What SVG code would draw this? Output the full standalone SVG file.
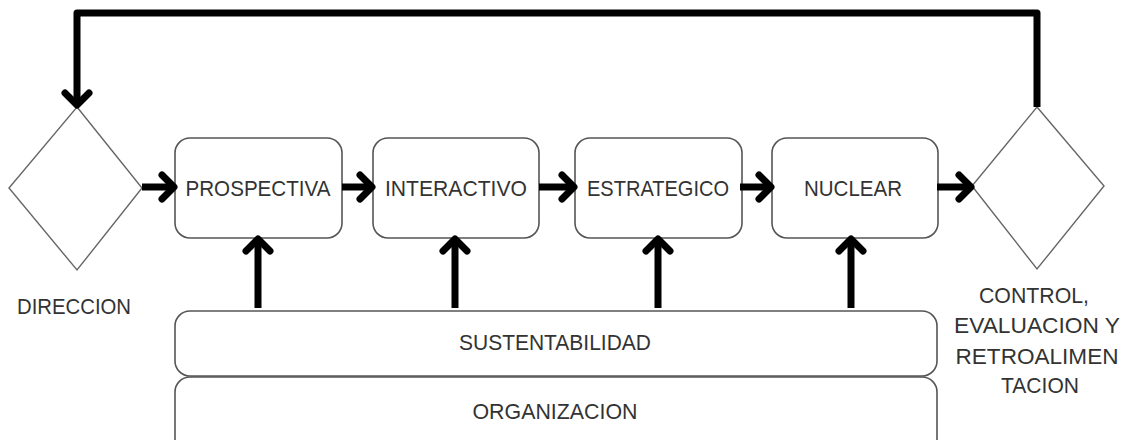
<svg xmlns="http://www.w3.org/2000/svg" width="1123" height="440" viewBox="0 0 1123 440">
<style>
.box{fill:#fff;stroke:#555;stroke-width:1.6}
.dia{fill:#fff;stroke:#666;stroke-width:1.4}
.t{font-family:"Liberation Sans",Arial,sans-serif;font-size:22px;fill:#333;text-anchor:middle;dominant-baseline:central}
.c{fill:none;stroke:#000;stroke-width:7;stroke-linejoin:round}
</style>
<defs>
<marker id="ah" markerUnits="userSpaceOnUse" markerWidth="40" markerHeight="40" viewBox="-20 -20 40 40" refX="0" refY="0" orient="auto">
<path d="M-12,-12 L0,0 L-12,12" fill="none" stroke="#000" stroke-width="7" stroke-linecap="round" stroke-linejoin="round"/>
</marker>
</defs>
<rect width="1123" height="440" fill="#fff"/>
<g id="direccion">
<polygon class="dia" points="77,107 142,188 77,270 9,188"/>
<text class="t" x="74" y="306" textLength="114" lengthAdjust="spacingAndGlyphs">DIRECCION</text>
</g>
<g id="control">
<polygon class="dia" points="1037,107 1104,186 1037,269 972,186"/>
<text class="t" x="1034" y="295" textLength="110" lengthAdjust="spacingAndGlyphs">CONTROL,</text>
<text class="t" x="1037" y="325" textLength="166" lengthAdjust="spacingAndGlyphs">EVALUACION Y</text>
<text class="t" x="1037" y="356" textLength="163" lengthAdjust="spacingAndGlyphs">RETROALIMEN</text>
<text class="t" x="1040" y="385" textLength="78" lengthAdjust="spacingAndGlyphs">TACION</text>
</g>
<g id="prospectiva">
<rect class="box" x="175" y="138" width="167" height="100" rx="15"/>
<text class="t" x="258" y="188" textLength="145" lengthAdjust="spacingAndGlyphs">PROSPECTIVA</text>
</g>
<g id="interactivo">
<rect class="box" x="373" y="138" width="166" height="100" rx="15"/>
<text class="t" x="456" y="188" textLength="142" lengthAdjust="spacingAndGlyphs">INTERACTIVO</text>
</g>
<g id="estrategico">
<rect class="box" x="575" y="138" width="167" height="100" rx="15"/>
<text class="t" x="658" y="188" textLength="142" lengthAdjust="spacingAndGlyphs">ESTRATEGICO</text>
</g>
<g id="nuclear">
<rect class="box" x="772" y="138" width="166" height="100" rx="15"/>
<text class="t" x="853" y="188" textLength="98" lengthAdjust="spacingAndGlyphs">NUCLEAR</text>
</g>
<g id="sustentabilidad">
<rect class="box" x="175" y="311" width="762" height="65" rx="15"/>
<text class="t" x="555" y="342" textLength="192" lengthAdjust="spacingAndGlyphs">SUSTENTABILIDAD</text>
</g>
<g id="organizacion">
<rect class="box" x="175" y="377" width="762" height="80" rx="15"/>
<text class="t" x="555" y="411" textLength="165" lengthAdjust="spacingAndGlyphs">ORGANIZACION</text>
</g>
<g id="connectors">
<path class="c" d="M1037,107 L1037,13 L77,13 L77,105" marker-end="url(#ah)"/>
<path class="c" d="M142,187 L174,187" marker-end="url(#ah)"/>
<path class="c" d="M342,187 L372,187" marker-end="url(#ah)"/>
<path class="c" d="M539,187 L574,187" marker-end="url(#ah)"/>
<path class="c" d="M740,187 L771,187" marker-end="url(#ah)"/>
<path class="c" d="M937,187 L971,187" marker-end="url(#ah)"/>
<path class="c" d="M258,308 L258,239" marker-end="url(#ah)"/>
<path class="c" d="M455,308 L455,239" marker-end="url(#ah)"/>
<path class="c" d="M658,308 L658,239" marker-end="url(#ah)"/>
<path class="c" d="M851,308 L851,239" marker-end="url(#ah)"/>
</g>
</svg>
